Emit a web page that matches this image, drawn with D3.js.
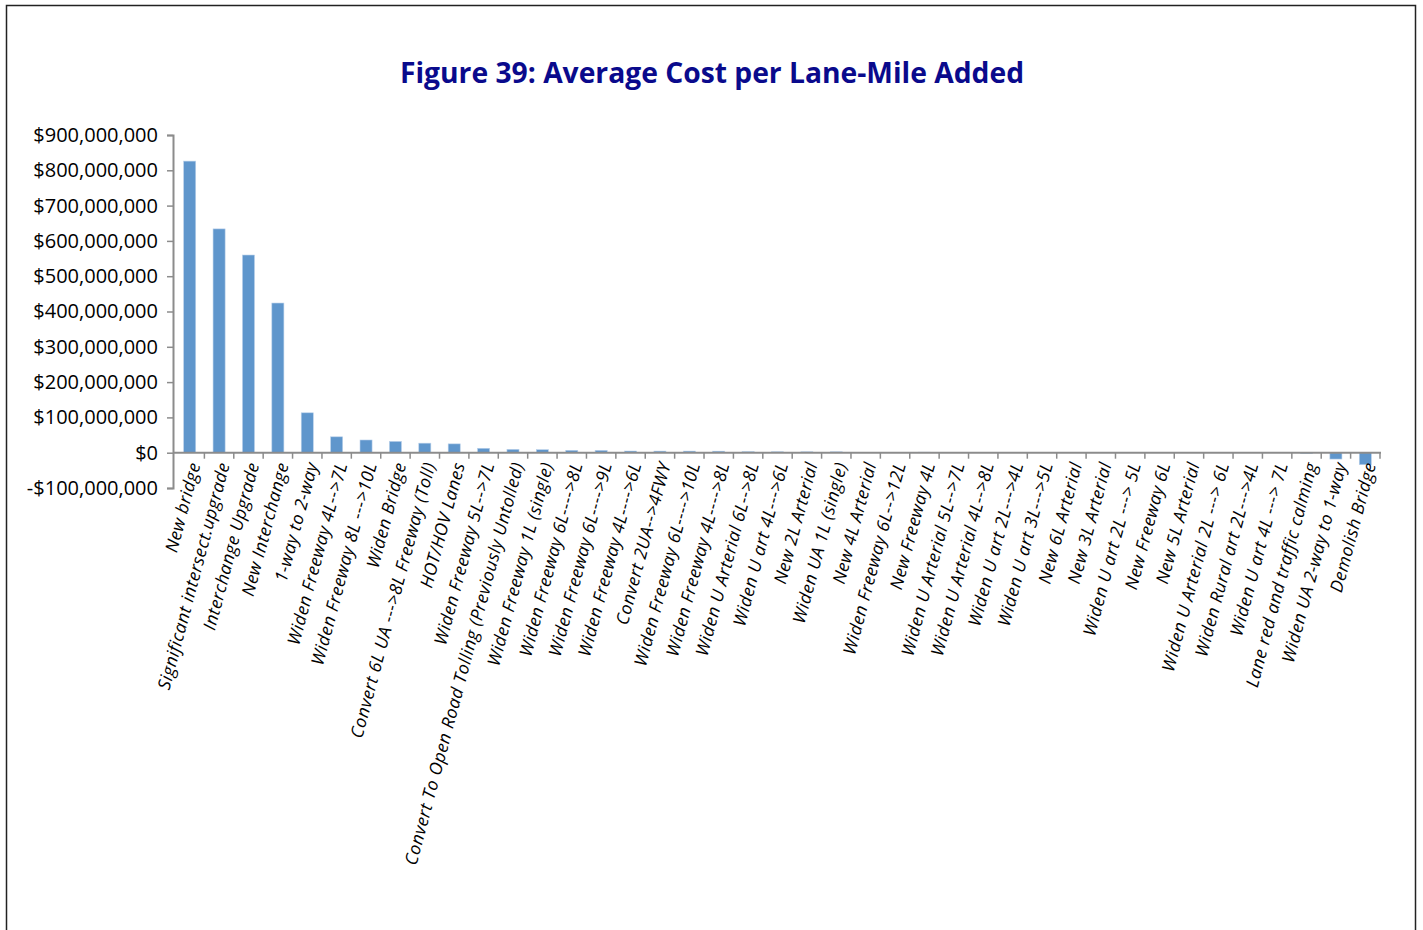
<!DOCTYPE html>
<html>
<head>
<meta charset="utf-8">
<script src="https://cdn.jsdelivr.net/npm/d3@7"></script>
<style>
  html, body { margin: 0; padding: 0; background: #fff; }
  svg { display: block; }
</style>
</head>
<body>
<svg id="chart" width="1423" height="930"></svg>
<script>
// Project types, ordered by average cost per lane-mile
const categories = [
  "New bridge",
  "Significant intersect.upgrade",
  "Interchange Upgrade",
  "New Interchange",
  "1-way to 2-way",
  "Widen Freeway 4L-->7L",
  "Widen Freeway 8L --->10L",
  "Widen Bridge",
  "Convert 6L UA --->8L Freeway (Toll)",
  "HOT/HOV Lanes",
  "Widen Freeway 5L-->7L",
  "Convert To Open Road Tolling (Previously Untolled)",
  "Widen Freeway 1L (single)",
  "Widen Freeway 6L---->8L",
  "Widen Freeway 6L---->9L",
  "Widen Freeway 4L---->6L",
  "Convert 2UA-->4FWY",
  "Widen Freeway 6L---->10L",
  "Widen Freeway 4L---->8L",
  "Widen U Arterial 6L-->8L",
  "Widen U art 4L--->6L",
  "New 2L Arterial",
  "Widen UA 1L (single)",
  "New 4L Arterial",
  "Widen Freeway 6L-->12L",
  "New Freeway 4L",
  "Widen U Arterial 5L-->7L",
  "Widen U Arterial 4L-->8L",
  "Widen U art 2L--->4L",
  "Widen U art 3L--->5L",
  "New 6L Arterial",
  "New 3L Arterial",
  "Widen U art 2L ---> 5L",
  "New Freeway 6L",
  "New 5L Arterial",
  "Widen U Arterial 2L ---> 6L",
  "Widen Rural art 2L--->4L",
  "Widen U art 4L ---> 7L",
  "Lane red and traffic calming",
  "Widen UA 2-way to 1-way",
  "Demolish Bridge"
];

// Average cost per lane-mile added (dollars)
const costs = [
  826000000, 634000000, 560000000, 424000000, 113000000,
  45000000, 36000000, 32000000, 27000000, 25000000,
  12500000, 9500000, 8500000, 6800000, 6600000,
  4700000, 4500000, 4500000, 4300000, 3000000,
  2600000, 2500000, 2500000, 600000, 500000,
  1500000, 400000, 350000, 300000, 300000,
  250000, 250000, 200000, 200000, 200000,
  150000, 150000, 100000, -2500000, -18000000,
  -34000000
];

// Y axis tick values
const yTicks = [-100000000, 0, 100000000, 200000000, 300000000, 400000000,
                500000000, 600000000, 700000000, 800000000, 900000000];

const titleText = "Figure 39: Average Cost per Lane-Mile Added";

const svg = d3.select("#chart");

// Outer frame
svg.append("rect")
  .attr("x", 6.5).attr("y", 5.5)
  .attr("width", 1409).attr("height", 940)
  .attr("fill", "none")
  .attr("stroke", "#222")
  .attr("stroke-width", 1.5);

// Title
svg.append("text")
  .attr("x", 712).attr("y", 83)
  .attr("text-anchor", "middle")
  .attr("font-family", "'Open Sans', sans-serif")
  .attr("font-weight", "bold")
  .attr("font-size", 28)
  .attr("fill", "#0a0a8c")
  .attr("textLength", 624)
  .attr("lengthAdjust", "spacingAndGlyphs")
  .text(titleText);

const axisLeftX = 173, plotLeft = 175, plotRight = 1380;

const x = d3.scaleBand()
  .domain(categories)
  .range([plotLeft, plotRight])
  .padding(0);

const y = d3.scaleLinear()
  .domain([-100000000, 900000000])
  .range([488, 135]);

const axisColor = "#8c8c8c";

// Bars
const barFrac = 0.41;
svg.append("g")
  .selectAll("rect")
  .data(categories.map((c, i) => ({ c, v: costs[i] })))
  .join("rect")
  .attr("x", d => x(d.c) + x.bandwidth() * (1 - barFrac) / 2)
  .attr("width", x.bandwidth() * barFrac)
  .attr("y", d => Math.min(y(d.v), y(0)))
  .attr("height", d => Math.abs(y(d.v) - y(0)))
  .attr("fill", "#5f96cc")
  .attr("stroke", "#b9d0ea")
  .attr("stroke-width", 0.6);

// Y axis
const fmt = v => (v < 0 ? "-$" : "$") + d3.format(",")(Math.abs(v));
const yAxis = d3.axisLeft(y)
  .tickValues(yTicks)
  .tickFormat(fmt)
  .tickSize(6)
  .tickPadding(9);

const gy = svg.append("g")
  .attr("transform", `translate(${axisLeftX},0)`)
  .call(yAxis);
gy.select(".domain").attr("stroke", axisColor).attr("stroke-width", 2);
gy.selectAll(".tick line").attr("stroke", axisColor).attr("stroke-width", 1.5);
gy.selectAll(".tick text")
  .attr("font-family", "'Open Sans', sans-serif")
  .attr("font-size", 20)
  .attr("fill", "#000");

// X axis along zero line, ticks between categories
const gx = svg.append("g").attr("transform", `translate(0,${y(0)})`);
gx.append("line")
  .attr("x1", axisLeftX).attr("x2", plotRight + 1)
  .attr("stroke", axisColor).attr("stroke-width", 2);
const boundaries = categories.map(c => x(c)).concat([plotRight]);
gx.selectAll("line.tk")
  .data(boundaries.slice(1))
  .join("line")
  .attr("class", "tk")
  .attr("x1", d => d).attr("x2", d => d)
  .attr("y1", 0).attr("y2", 6)
  .attr("stroke", axisColor).attr("stroke-width", 1.5);

// Category labels, rotated
svg.append("g")
  .selectAll("text")
  .data(categories)
  .join("text")
  .attr("transform", d => `translate(${x(d) + x.bandwidth() / 2 + 5},${y(0) + 10}) rotate(-75)`)
  .attr("text-anchor", "end")
  .attr("dy", "0.35em")
  .attr("font-family", "'Open Sans', sans-serif")
  .attr("font-style", "italic")
  .attr("font-size", 17.5)
  .attr("letter-spacing", 0.5)
  .attr("fill", "#000")
  .text(d => d);
</script>
</body>
</html>
